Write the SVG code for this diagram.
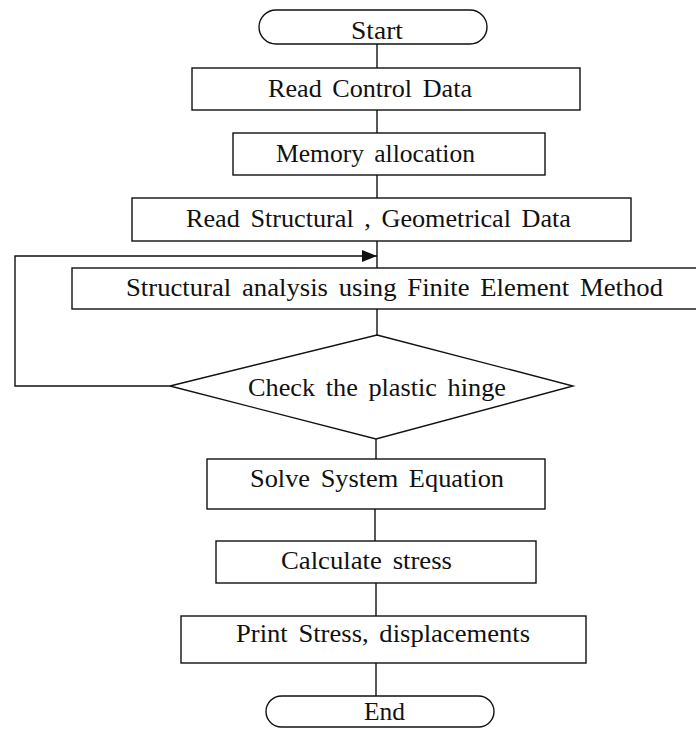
<svg xmlns="http://www.w3.org/2000/svg" width="696" height="729" viewBox="0 0 696 729">
<style>
.box{fill:#fff;stroke:#111;stroke-width:1.4}
.ln{fill:none;stroke:#111;stroke-width:1.4}
.t{font-family:"Liberation Serif","Times New Roman",serif;font-size:26px;fill:#111;word-spacing:4px}
</style>
<defs>
<marker id="arr" markerWidth="15" markerHeight="12" refX="15" refY="6" orient="auto" markerUnits="userSpaceOnUse">
<path d="M0,0 L15,6 L0,12 Z" fill="#111"/>
</marker>
</defs>
<rect width="696" height="729" fill="#fff"/>
<g id="connectors">
<line class="ln" x1="377" y1="44" x2="377" y2="68"/>
<line class="ln" x1="377" y1="110" x2="377" y2="133"/>
<line class="ln" x1="377" y1="175" x2="377" y2="198"/>
<line class="ln" x1="377" y1="241" x2="377" y2="268"/>
<line class="ln" x1="377" y1="309" x2="377" y2="335"/>
<line class="ln" x1="376" y1="439" x2="376" y2="459"/>
<line class="ln" x1="375" y1="509" x2="375" y2="541"/>
<line class="ln" x1="376" y1="583" x2="376" y2="616"/>
<line class="ln" x1="376" y1="663" x2="376" y2="696"/>
<polyline class="ln" points="170,386 15,386 15,256 377,256" marker-end="url(#arr)"/>
</g>
<g id="start">
<rect class="box" x="259" y="10" width="228" height="34" rx="17" ry="17"/>
<text class="t" x="351" y="39" textLength="52" lengthAdjust="spacingAndGlyphs">Start</text>
</g>
<g id="read-control">
<rect class="box" x="192" y="68" width="388" height="42"/>
<text class="t" x="268" y="97" textLength="204" lengthAdjust="spacingAndGlyphs">Read Control Data</text>
</g>
<g id="memory">
<rect class="box" x="233" y="133" width="312" height="42"/>
<text class="t" x="276" y="162" textLength="199" lengthAdjust="spacingAndGlyphs">Memory allocation</text>
</g>
<g id="read-structural">
<rect class="box" x="132" y="198" width="499" height="43"/>
<text class="t" x="186" y="227" textLength="385" lengthAdjust="spacingAndGlyphs">Read Structural , Geometrical Data</text>
</g>
<g id="fem">
<rect class="box" x="72" y="268" width="630" height="41"/>
<text class="t" x="126" y="296" textLength="537" lengthAdjust="spacingAndGlyphs">Structural analysis using Finite Element Method</text>
</g>
<g id="check">
<polygon class="box" points="377,335 573,386 376,439 170,386"/>
<text class="t" x="248" y="396" textLength="258" lengthAdjust="spacingAndGlyphs">Check the plastic hinge</text>
</g>
<g id="solve">
<rect class="box" x="207" y="459" width="338" height="50"/>
<text class="t" x="250" y="487" textLength="254" lengthAdjust="spacingAndGlyphs">Solve System Equation</text>
</g>
<g id="calc">
<rect class="box" x="216" y="541" width="320" height="42"/>
<text class="t" x="281" y="569" textLength="171" lengthAdjust="spacingAndGlyphs">Calculate stress</text>
</g>
<g id="print">
<rect class="box" x="181" y="616" width="405" height="47"/>
<text class="t" x="236" y="642" textLength="294" lengthAdjust="spacingAndGlyphs">Print Stress, displacements</text>
</g>
<g id="end">
<rect class="box" x="266" y="696" width="228" height="31" rx="15.5" ry="15.5"/>
<text class="t" x="364" y="720" textLength="41" lengthAdjust="spacingAndGlyphs">End</text>
</g>
</svg>
